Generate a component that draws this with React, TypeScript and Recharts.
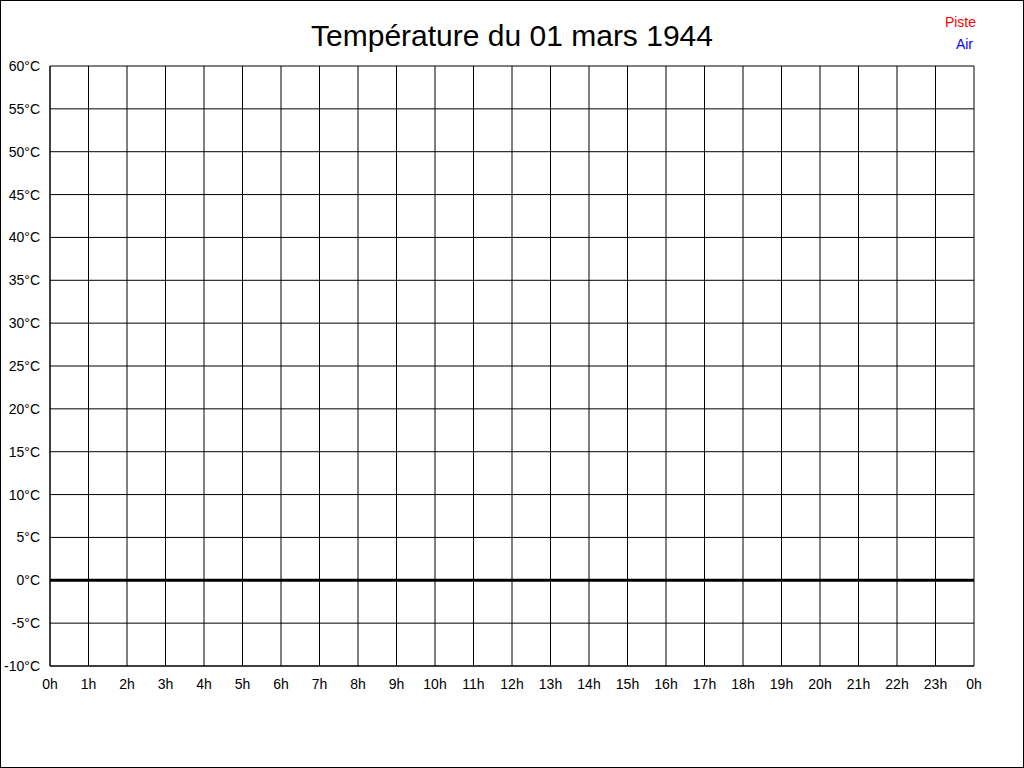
import React from 'react';
import { LineChart, Line, XAxis, YAxis, CartesianGrid, ReferenceLine } from 'recharts';

const hours = [0, 1, 2, 3, 4, 5, 6, 7, 8, 9, 10, 11, 12, 13, 14, 15, 16, 17, 18, 19, 20, 21, 22, 23, 24];
const pisteValues: (number | null)[] = hours.map(() => null);
const airValues: (number | null)[] = hours.map(() => null);
const yTicks = [-10, -5, 0, 5, 10, 15, 20, 25, 30, 35, 40, 45, 50, 55, 60];
const title = 'Température du 01 mars 1944';

const data = hours.map((h, i) => ({ h, piste: pisteValues[i], air: airValues[i] }));

const FONT = '"Liberation Sans", Arial, sans-serif';

export default function App() {
  return (
    <div
      style={{
        position: 'absolute',
        left: 0,
        top: 0,
        width: 1024,
        height: 768,
        boxSizing: 'border-box',
        border: '1px solid #000',
        background: '#fff',
        fontFamily: FONT,
      }}
    >
      <div
        style={{
          position: 'absolute',
          left: -1,
          top: 17,
          width: 1024,
          textAlign: 'center',
          fontSize: 30,
          lineHeight: '36px',
          color: '#000',
        }}
      >
        {title}
      </div>
      <div style={{ position: 'absolute', right: 47, top: 12, fontSize: 14, color: '#ff0000', lineHeight: '18px' }}>Piste</div>
      <div style={{ position: 'absolute', right: 50, top: 34, fontSize: 14, color: '#0000ff', lineHeight: '18px' }}>Air</div>
      <div style={{ position: 'absolute', left: -1, top: -1 }}>
        <LineChart width={1024} height={768} data={data} margin={{ top: 66, right: 50, bottom: 72, left: 0 }}>
          <CartesianGrid stroke="#000" strokeWidth={1} />
          <XAxis
            dataKey="h"
            type="number"
            domain={[0, 24]}
            ticks={hours}
            interval={0}
            height={30}
            axisLine={{ stroke: '#000' }}
            tickLine={false}
            tickMargin={7}
            tickFormatter={(v: number) => `${v % 24}h`}
            tick={{ fill: '#000', fontSize: 14, fontFamily: FONT }}
          />
          <YAxis
            type="number"
            domain={[-10, 60]}
            allowDataOverflow={true}
            ticks={yTicks}
            interval={0}
            width={50}
            axisLine={{ stroke: '#000' }}
            tickLine={false}
            tickMargin={4}
            tickFormatter={(v: number) => `${v}°C`}
            tick={{ fill: '#000', fontSize: 14, fontFamily: FONT }}
          />
          <ReferenceLine y={0} stroke="#000" strokeWidth={3} />
          <Line dataKey="piste" stroke="#ff0000" dot={false} isAnimationActive={false} connectNulls={false} />
          <Line dataKey="air" stroke="#0000ff" dot={false} isAnimationActive={false} connectNulls={false} />
        </LineChart>
      </div>
    </div>
  );
}
